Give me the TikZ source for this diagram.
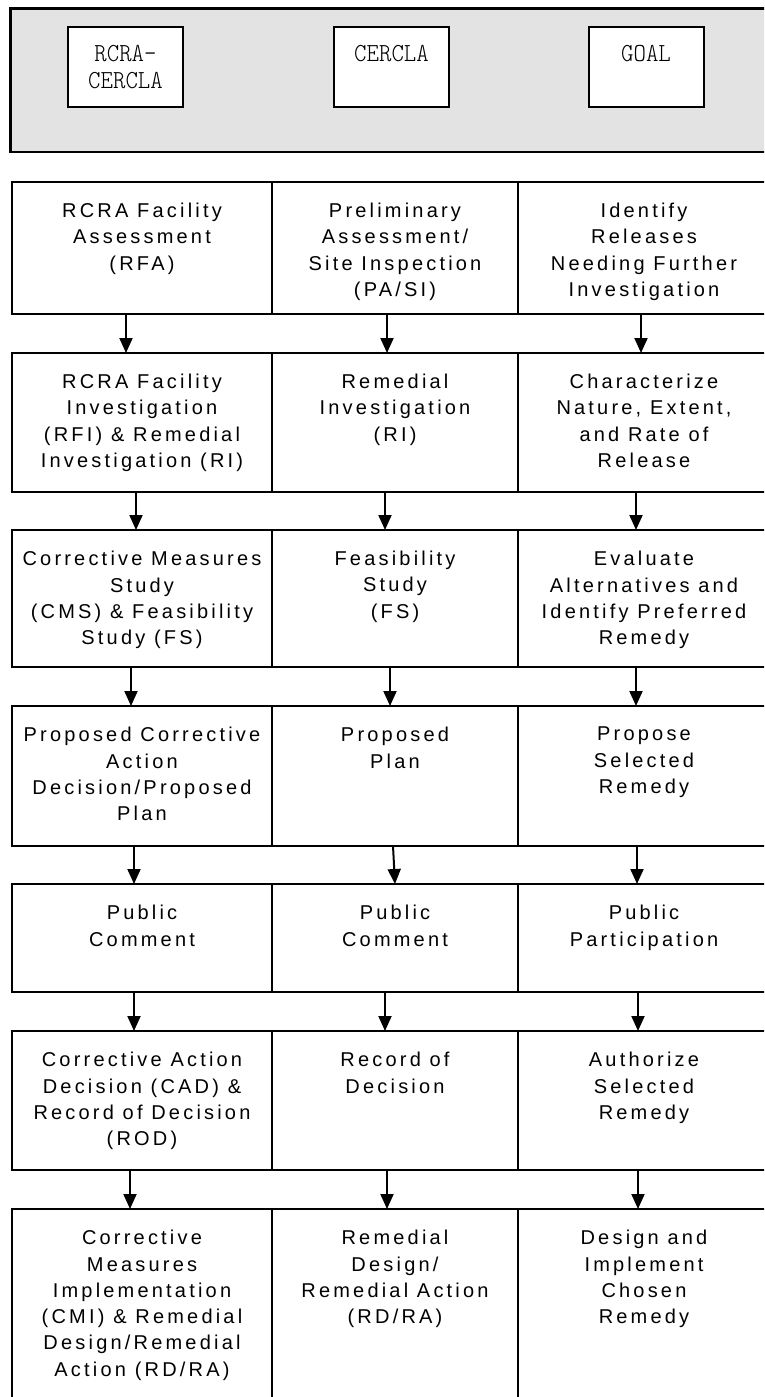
\documentclass[tikz,border=0pt]{standalone}
\usepackage{fontspec}
\setmainfont{Liberation Sans}
\newfontfamily\cellfont{Liberation Sans}[LetterSpace=16]
\newfontfamily\hdrfont{lmmonolt10-regular.otf}[FakeStretch=0.91]
\usetikzlibrary{arrows.meta}
\definecolor{hdrgray}{RGB}{227,227,227}
\tikzset{
  cell/.style={draw, line width=2.5pt, outer sep=0pt, inner sep=0pt, anchor=north west},
  txt/.style={anchor=north, inner sep=0pt, align=center, font=\cellfont\fontsize{20}{26.3}\selectfont},
  hbox/.style={draw, fill=white, line width=2pt, outer sep=0pt, inner sep=0pt, minimum width=115pt, minimum height=79pt},
  htxt/.style={anchor=north, inner sep=0pt, align=center, font=\hdrfont\fontsize{26}{27}\selectfont},
  arr/.style={line width=2pt, -{Triangle[width=13pt,length=15pt]}}
}
\begin{document}
\begin{tikzpicture}[x=1pt,y=-1pt]
\useasboundingbox (0,0) rectangle (764,1397);
\fill[white] (0,0) rectangle (764,1397);
\clip (0,0) rectangle (764,1397);

% header
\node[draw, fill=hdrgray, line width=2.7pt, outer sep=0pt, inner sep=0pt, anchor=north west,
      minimum width=764.5pt, minimum height=143.5pt] (hdr) at (10.5,8.5) {};
\node[hbox] (h1) at (125.5,67) {};
\node[hbox] (h2) at (391.5,67) {};
\node[hbox] (h3) at (646,67) {};
\node[htxt] (h1t) at ([yshift=-17.5pt]h1.north) {RCRA-\\CERCLA};
\node[htxt] (h2t) at ([yshift=-17.5pt]h2.north) {CERCLA};
\node[htxt] (h3t) at ([yshift=-17.5pt]h3.north) {GOAL};

% row 1
\node[cell, minimum width=260pt, minimum height=132pt] (a1) at (12,182) {};
\node[cell, minimum width=246pt, minimum height=132pt] (b1) at (272,182) {};
\node[cell, minimum width=252pt, minimum height=132pt] (c1) at (518,182) {};
% row 2
\node[cell, minimum width=260pt, minimum height=139pt] (a2) at (12,353) {};
\node[cell, minimum width=246pt, minimum height=139pt] (b2) at (272,353) {};
\node[cell, minimum width=252pt, minimum height=139pt] (c2) at (518,353) {};
% row 3
\node[cell, minimum width=260pt, minimum height=137pt] (a3) at (12,530) {};
\node[cell, minimum width=246pt, minimum height=137pt] (b3) at (272,530) {};
\node[cell, minimum width=252pt, minimum height=137pt] (c3) at (518,530) {};
% row 4
\node[cell, minimum width=260pt, minimum height=140pt] (a4) at (12,706) {};
\node[cell, minimum width=246pt, minimum height=140pt] (b4) at (272,706) {};
\node[cell, minimum width=252pt, minimum height=140pt] (c4) at (518,706) {};
% row 5
\node[cell, minimum width=260pt, minimum height=108pt] (a5) at (12,884) {};
\node[cell, minimum width=246pt, minimum height=108pt] (b5) at (272,884) {};
\node[cell, minimum width=252pt, minimum height=108pt] (c5) at (518,884) {};
% row 6
\node[cell, minimum width=260pt, minimum height=139pt] (a6) at (12,1031) {};
\node[cell, minimum width=246pt, minimum height=139pt] (b6) at (272,1031) {};
\node[cell, minimum width=252pt, minimum height=139pt] (c6) at (518,1031) {};
% row 7
\node[cell, minimum width=260pt, minimum height=211pt] (a7) at (12,1209) {};
\node[cell, minimum width=246pt, minimum height=211pt] (b7) at (272,1209) {};
\node[cell, minimum width=252pt, minimum height=211pt] (c7) at (518,1209) {};

% texts
\node[txt] (a1t) at ([yshift=-21pt]a1.north) {RCRA Facility\\Assessment\\(RFA)};
\node[txt] (b1t) at ([yshift=-21pt]b1.north) {Preliminary\\Assessment/\\Site Inspection\\(PA/SI)};
\node[txt] (c1t) at ([yshift=-21pt]c1.north) {Identify\\Releases\\Needing Further\\Investigation};

\node[txt] (a2t) at ([yshift=-21pt]a2.north) {RCRA Facility\\Investigation\\(RFI) \& Remedial\\Investigation (RI)};
\node[txt] (b2t) at ([yshift=-21pt]b2.north) {Remedial\\Investigation\\(RI)};
\node[txt] (c2t) at ([yshift=-21pt]c2.north) {Characterize\\Nature, Extent,\\and Rate of\\Release};

\node[txt] (a3t) at ([yshift=-21pt]a3.north) {Corrective Measures\\Study\\(CMS) \& Feasibility\\Study (FS)};
\node[txt] (b3t) at ([yshift=-21pt]b3.north) {Feasibility\\Study\\(FS)};
\node[txt] (c3t) at ([yshift=-21pt]c3.north) {Evaluate\\Alternatives and\\Identify Preferred\\Remedy};

\node[txt] (a4t) at ([yshift=-21pt]a4.north) {Proposed Corrective\\Action\\Decision/Proposed\\Plan};
\node[txt] (b4t) at ([yshift=-21pt]b4.north) {Proposed\\Plan};
\node[txt] (c4t) at ([yshift=-21pt]c4.north) {Propose\\Selected\\Remedy};

\node[txt] (a5t) at ([yshift=-21pt]a5.north) {Public\\Comment};
\node[txt] (b5t) at ([yshift=-21pt]b5.north) {Public\\Comment};
\node[txt] (c5t) at ([yshift=-21pt]c5.north) {Public\\Participation};

\node[txt] (a6t) at ([yshift=-21pt]a6.north) {Corrective Action\\Decision (CAD) \&\\Record of Decision\\(ROD)};
\node[txt] (b6t) at ([yshift=-21pt]b6.north) {Record of\\Decision};
\node[txt] (c6t) at ([yshift=-21pt]c6.north) {Authorize\\Selected\\Remedy};

\node[txt] (a7t) at ([yshift=-21pt]a7.north) {Corrective\\Measures\\Implementation\\(CMI) \& Remedial\\Design/Remedial\\Action (RD/RA)};
\node[txt] (b7t) at ([yshift=-21pt]b7.north) {Remedial\\Design/\\Remedial Action\\(RD/RA)};
\node[txt] (c7t) at ([yshift=-21pt]c7.north) {Design and\\Implement\\Chosen\\Remedy};

% arrows
\draw[arr] ([xshift=-16pt]a1.south) -- ([xshift=-16pt]a2.north);
\draw[arr] ([xshift=-8pt]b1.south) -- ([xshift=-8pt]b2.north);
\draw[arr] ([xshift=-3pt]c1.south) -- ([xshift=-3pt]c2.north);

\draw[arr] ([xshift=-6pt]a2.south) -- ([xshift=-6pt]a3.north);
\draw[arr] ([xshift=-10pt]b2.south) -- ([xshift=-10pt]b3.north);
\draw[arr] ([xshift=-8pt]c2.south) -- ([xshift=-8pt]c3.north);

\draw[arr] ([xshift=-11pt]a3.south) -- ([xshift=-11pt]a4.north);
\draw[arr] ([xshift=-5pt]b3.south) -- ([xshift=-5pt]b4.north);
\draw[arr] ([xshift=-8pt]c3.south) -- ([xshift=-8pt]c4.north);

\draw[arr] ([xshift=-8pt]a4.south) -- ([xshift=-8pt]a5.north);
\draw[arr] ([xshift=-2pt]b4.south) -- ([xshift=0pt]b5.north);
\draw[arr] ([xshift=-7pt]c4.south) -- ([xshift=-7pt]c5.north);

\draw[arr] ([xshift=-8pt]a5.south) -- ([xshift=-8pt]a6.north);
\draw[arr] ([xshift=-10pt]b5.south) -- ([xshift=-10pt]b6.north);
\draw[arr] ([xshift=-6pt]c5.south) -- ([xshift=-6pt]c6.north);

\draw[arr] ([xshift=-12pt]a6.south) -- ([xshift=-12pt]a7.north);
\draw[arr] ([xshift=-8pt]b6.south) -- ([xshift=-8pt]b7.north);
\draw[arr] ([xshift=-6pt]c6.south) -- ([xshift=-6pt]c7.north);
\end{tikzpicture}
\end{document}
